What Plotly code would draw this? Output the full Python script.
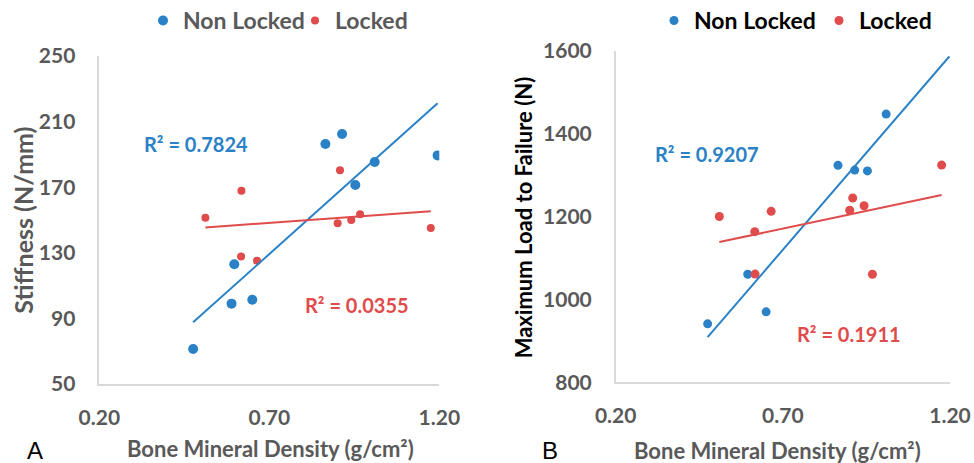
import numpy as np
import plotly.graph_objects as go

BLUE = "#2A81C6"
RED = "#E04B4B"
GRAY = "#595959"

# Panel A: Stiffness
A_nl_x = [0.476, 0.589, 0.597, 0.650, 0.865, 0.914, 0.953, 1.010, 1.195]
A_nl_y = [71.3, 99.0, 123.0, 101.4, 196.3, 202.4, 171.3, 185.4, 189.4]
A_l_x = [0.512, 0.618, 0.617, 0.664, 0.908, 0.901, 0.941, 0.967, 1.175]
A_l_y = [151.4, 167.9, 127.8, 125.2, 180.3, 148.0, 150.0, 153.5, 145.1]

# Panel B: Maximum load to failure
B_nl_x = [0.475, 0.595, 0.650, 0.865, 0.915, 0.953, 1.009]
B_nl_y = [941, 1060.6, 970, 1323.5, 1312, 1310, 1447]
B_l_x = [0.510, 0.616, 0.617, 0.665, 0.900, 0.909, 0.943, 0.968, 1.175]
B_l_y = [1200, 1163.5, 1061, 1212.5, 1215, 1244.7, 1226, 1060.7, 1324]
B_nl_trend_end = 1.198

x_ticks = [0.20, 0.70, 1.20]
A_y_ticks = [50, 90, 130, 170, 210, 250]
B_y_ticks = [800, 1000, 1200, 1400, 1600]

def trend(x, y, x_end=None):
    m, b = np.polyfit(x, y, 1)
    x0 = min(x)
    x1 = max(x) if x_end is None else x_end
    xs = np.array([x0, x1])
    return xs, m * xs + b

fig = go.Figure()

W, H = 974, 463
def dom_x(a, b):
    return [a / W, b / W]
def dom_y(top, bottom):
    return [1 - bottom / H, 1 - top / H]

# Panel A traces
fig.add_trace(go.Scatter(x=A_nl_x, y=A_nl_y, mode="markers", name="Non Locked",
                         marker=dict(color=BLUE, size=10), xaxis="x", yaxis="y", legend="legend"))
fig.add_trace(go.Scatter(x=A_l_x, y=A_l_y, mode="markers", name="Locked",
                         marker=dict(color=RED, size=8), xaxis="x", yaxis="y", legend="legend"))
tx, ty = trend(A_nl_x, A_nl_y)
fig.add_trace(go.Scatter(x=tx, y=ty, mode="lines", line=dict(color=BLUE, width=2),
                         showlegend=False, xaxis="x", yaxis="y"))
tx, ty = trend(A_l_x, A_l_y)
fig.add_trace(go.Scatter(x=tx, y=ty, mode="lines", line=dict(color=RED, width=2),
                         showlegend=False, xaxis="x", yaxis="y"))

# Panel B traces
fig.add_trace(go.Scatter(x=B_nl_x, y=B_nl_y, mode="markers", name="Non Locked",
                         marker=dict(color=BLUE, size=9), xaxis="x2", yaxis="y2", legend="legend2"))
fig.add_trace(go.Scatter(x=B_l_x, y=B_l_y, mode="markers", name="Locked",
                         marker=dict(color=RED, size=9), xaxis="x2", yaxis="y2", legend="legend2"))
tx, ty = trend(B_nl_x, B_nl_y, B_nl_trend_end)
fig.add_trace(go.Scatter(x=tx, y=ty, mode="lines", line=dict(color=BLUE, width=2),
                         showlegend=False, xaxis="x2", yaxis="y2"))
tx, ty = trend(B_l_x, B_l_y)
fig.add_trace(go.Scatter(x=tx, y=ty, mode="lines", line=dict(color=RED, width=2),
                         showlegend=False, xaxis="x2", yaxis="y2"))

FONT = "Lato"
tickfont = dict(family=FONT, size=21, color=GRAY, weight="bold")

def xaxis(domain, anchor):
    return dict(domain=domain, anchor=anchor, range=[0.2, 1.2], tickvals=x_ticks,
                ticktext=[f"{v:.2f}" for v in x_ticks], showgrid=False, zeroline=False,
                showline=True, linecolor="#D9D9D9", linewidth=1.5, ticks="",
                tickfont=tickfont, ticklabelstandoff=14, automargin=False)

def yaxis(domain, anchor, rng, ticks):
    return dict(domain=domain, anchor=anchor, range=rng, tickvals=ticks,
                showgrid=False, zeroline=False, showline=True, linecolor="#D9D9D9",
                linewidth=1.5, ticks="", tickfont=tickfont, ticklabelstandoff=18,
                automargin=False)

fig.update_layout(
    width=W, height=H, margin=dict(l=0, r=0, t=0, b=0, autoexpand=False),
    plot_bgcolor="white", paper_bgcolor="white",
    xaxis=xaxis(dom_x(99.3, 439.3), "y"),
    yaxis=yaxis(dom_y(56, 384), "x", [50, 250], A_y_ticks),
    xaxis2=xaxis(dom_x(615.7, 950), "y2"),
    yaxis2=yaxis(dom_y(50.7, 382.3), "x2", [800, 1600], B_y_ticks),
    legend=dict(orientation="h", x=143 / W, y=1 + 1 / H, xanchor="left", yanchor="top",
                font=dict(family=FONT, size=23, color=GRAY, weight="bold"),
                itemwidth=30, entrywidth=107, tracegroupgap=0, bgcolor="rgba(0,0,0,0)"),
    legend2=dict(orientation="h", x=654 / W, y=1 + 1 / H, xanchor="left", yanchor="top",
                 font=dict(family=FONT, size=23, color="black", weight="bold"),
                 itemwidth=30, entrywidth=120, tracegroupgap=0, bgcolor="rgba(0,0,0,0)"),
    showlegend=True,
)

anns = [
    dict(text="R² = 0.7824", x=0.325, y=196.3, xref="x", yref="y", xanchor="left",
         font=dict(family=FONT, size=20, color=BLUE, weight="bold")),
    dict(text="R² = 0.0355", x=0.80, y=98.2, xref="x", yref="y", xanchor="left",
         font=dict(family=FONT, size=20, color=RED, weight="bold")),
    dict(text="R² = 0.9207", x=0.3125, y=1350, xref="x2", yref="y2", xanchor="left",
         font=dict(family=FONT, size=20, color=BLUE, weight="bold")),
    dict(text="R² = 0.1911", x=0.736, y=916, xref="x2", yref="y2", xanchor="left",
         font=dict(family=FONT, size=20, color=RED, weight="bold")),
    dict(text="Stiffness (N/mm)", x=22.7 / W, y=1 - 220 / H, textangle=-90,
         font=dict(family=FONT, size=25, color=GRAY, weight="bold")),
    dict(text="Maximum Load to Failure (N)", x=523.3 / W, y=1 - 217 / H, textangle=-90,
         font=dict(family=FONT, size=22, color="black", weight="bold")),
    dict(text="Bone Mineral Density (g/cm²)", x=270 / W, y=1 - 448 / H,
         font=dict(family=FONT, size=22, color=GRAY, weight="bold")),
    dict(text="Bone Mineral Density (g/cm²)", x=777.5 / W, y=1 - 450 / H,
         font=dict(family=FONT, size=22, color=GRAY, weight="bold")),
    dict(text="A", x=35 / W, y=1 - 450 / H,
         font=dict(family="Liberation Sans", size=24, color="black")),
    dict(text="B", x=550 / W, y=1 - 450 / H,
         font=dict(family="Liberation Sans", size=24, color="black")),
]
for a in anns:
    a["showarrow"] = False
    a.setdefault("xref", "paper")
    a.setdefault("yref", "paper")
    a.setdefault("xanchor", "center")
    a.setdefault("yanchor", "middle")
fig.update_layout(annotations=anns)

fig.write_html("out.html", config={"displayModeBar": False},
               post_script="document.body.style.margin='0';")
